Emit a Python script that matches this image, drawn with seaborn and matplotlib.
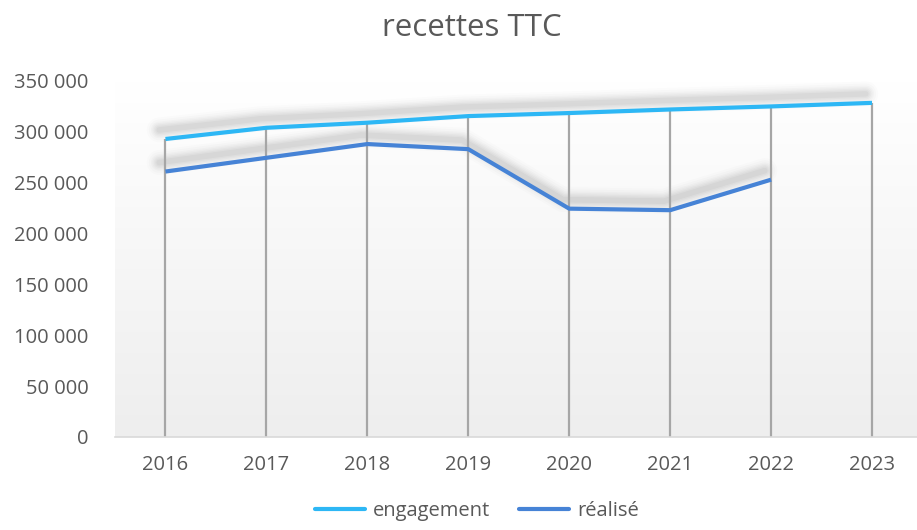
import matplotlib
matplotlib.use('Agg')
import matplotlib.pyplot as plt
import matplotlib.patheffects as pe
from matplotlib.lines import Line2D
from matplotlib.ticker import FuncFormatter
import seaborn as sns
import pandas as pd
import numpy as np

years = [2016, 2017, 2018, 2019, 2020, 2021, 2022, 2023]
engagement = [293000, 304000, 309000, 315500, 318500, 322000, 325000, 328500]
realise = [261000, 274500, 288000, 283000, 224500, 223000, 253000, np.nan]
series_names = ['engagement', 'réalisé']
colors = ['#2DB7F5', '#4683D6']

df = pd.DataFrame({'année': years * 2,
                   'valeur': engagement + realise,
                   'série': [series_names[0]] * 8 + [series_names[1]] * 8})

sns.set_style('white')
plt.rcParams['font.family'] = ['Open Sans', 'DejaVu Sans']
grey = '#595959'

fig = plt.figure(figsize=(9.17, 5.30), dpi=100)
ax = fig.add_axes([115 / 917, 1 - 437 / 530, 1 - 115 / 917, (437 - 81) / 530])

# gradient background of the plot area
grad = np.linspace(1, 0, 256).reshape(-1, 1)
ax.imshow(grad, extent=[0, 1, 0, 1], transform=ax.transAxes, aspect='auto',
          cmap=matplotlib.colors.LinearSegmentedColormap.from_list('bg', ['#EEEEEE', '#FFFFFF']),
          vmin=0, vmax=1, zorder=0)

sns.lineplot(data=df, x='année', y='valeur', hue='série', palette=colors,
             linewidth=3, ax=ax, legend=False, zorder=3)

# soft shadows drawn behind the drop lines
shadow = [pe.SimpleLineShadow(offset=(-4.5, 6.5), shadow_color='#000000', alpha=a,
                              linewidth=w, capstyle='round')
          for w, a in [(18, 0.012), (15, 0.015), (12, 0.018), (10, 0.02),
                       (8, 0.022), (6, 0.025), (4, 0.03)]]
for line in list(ax.lines):
    line.set_solid_capstyle('butt')
    ax.plot(line.get_xdata(), line.get_ydata(), color='none', linewidth=3,
            path_effects=shadow, zorder=1.5)

# drop lines
ax.vlines(years, 0, engagement, color='#A6A6A6', linewidth=1.6, zorder=2)

ax.set_xlim(2015.5, 2015.5 + (917 - 114.5) / 101)
ax.set_ylim(0, 350000)
ax.set_xticks(years)
ax.set_yticks(range(0, 350001, 50000))
ax.yaxis.set_major_formatter(FuncFormatter(lambda v, p: f'{int(v):,}'.replace(',', ' ')))
ax.tick_params(axis='both', length=0, labelsize=14.5, colors=grey)
ax.tick_params(axis='x', pad=13)
ax.tick_params(axis='y', pad=19)
ax.set_xlabel('')
ax.set_ylabel('')
for s in ['top', 'right', 'left']:
    ax.spines[s].set_visible(False)
ax.spines['bottom'].set_color('#D9D9D9')
ax.spines['bottom'].set_linewidth(1.2)

fig.text(0.514, 0.947, 'recettes TTC', ha='center', va='center', fontsize=22.5, color=grey)

handles = [Line2D([], [], color=c, linewidth=3) for c in colors]
fig.legend(handles, series_names, loc='lower center', bbox_to_anchor=(0.52, -0.005), ncol=2,
           frameon=False, fontsize=14.5, labelcolor=grey, handlelength=2.5,
           handletextpad=0.4, columnspacing=1.4, borderpad=0.1)

fig.savefig('out.png', dpi=100)
